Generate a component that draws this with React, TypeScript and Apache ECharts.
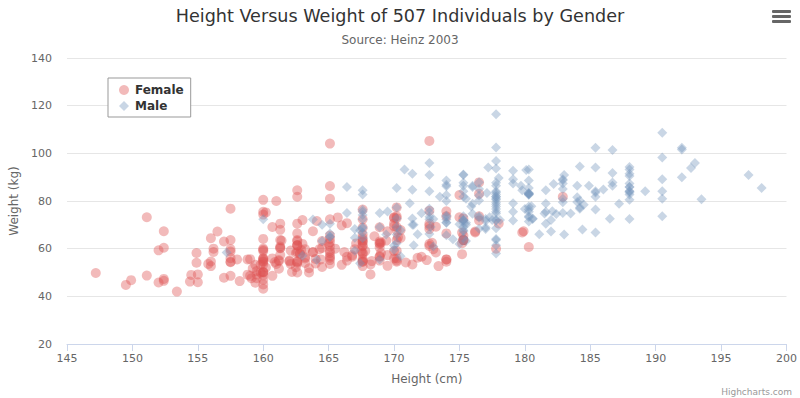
import React, { useEffect, useRef } from "react";
import * as echarts from "echarts";

const titleText = "Height Versus Weight of 507 Individuals by Gender";
const subtitleText = "Source: Heinz 2003";
const xAxisName = "Height (cm)";
const yAxisName = "Weight (kg)";
const seriesNames = ["Female", "Male"];
const creditText = "Highcharts.com";

const femaleData: number[][] = [
  [161.2, 51.6], [167.5, 59.0], [159.5, 49.2], [157.0, 63.0], [155.8, 53.6],
  [170.0, 59.0], [159.1, 47.6], [166.0, 69.8], [176.2, 66.8], [160.2, 75.2],
  [172.5, 55.2], [170.9, 54.2], [172.9, 62.5], [153.4, 42.0], [160.0, 50.0],
  [147.2, 49.8], [168.2, 49.2], [175.0, 73.2], [157.0, 47.8], [167.6, 68.8],
  [159.5, 50.6], [175.0, 82.5], [166.8, 57.2], [176.5, 87.8], [170.2, 72.8],
  [174.0, 54.5], [173.0, 59.8], [179.9, 67.3], [170.5, 67.8], [160.0, 47.0],
  [154.4, 46.2], [162.0, 55.0], [176.5, 83.0], [160.0, 54.4], [152.0, 45.8],
  [162.1, 53.6], [170.0, 73.2], [160.2, 52.1], [161.3, 67.9], [166.4, 56.6],
  [168.9, 62.3], [163.8, 58.5], [167.6, 54.5], [160.0, 50.2], [161.3, 60.3],
  [167.6, 58.3], [165.1, 56.2], [160.0, 50.2], [170.0, 72.9], [157.5, 59.8],
  [167.6, 61.0], [160.7, 69.1], [163.2, 55.9], [152.4, 46.5], [157.5, 54.3],
  [168.3, 54.8], [180.3, 60.7], [165.5, 60.0], [165.0, 62.0], [164.5, 60.3],
  [156.0, 52.7], [160.0, 74.3], [163.0, 62.0], [165.7, 73.1], [161.0, 80.0],
  [162.0, 54.7], [166.0, 53.2], [174.0, 75.7], [172.7, 61.1], [167.6, 55.7],
  [151.1, 48.7], [164.5, 52.3], [163.5, 50.0], [152.0, 59.3], [169.0, 62.5],
  [164.0, 55.7], [161.2, 54.8], [155.0, 45.9], [170.0, 70.6], [176.2, 67.2],
  [170.0, 69.4], [162.5, 58.2], [170.3, 64.8], [164.1, 71.6], [169.5, 52.8],
  [163.2, 59.8], [154.5, 49.0], [159.8, 50.0], [173.2, 69.2], [170.0, 55.9],
  [161.4, 63.4], [169.0, 58.2], [166.2, 58.6], [159.4, 45.7], [162.5, 52.2],
  [159.0, 48.6], [162.8, 57.8], [159.0, 55.6], [179.8, 66.8], [162.9, 59.4],
  [161.0, 53.6], [151.1, 73.2], [168.2, 53.4], [168.9, 69.0], [173.2, 58.4],
  [171.8, 56.2], [178.0, 70.6], [164.3, 59.8], [163.0, 72.0], [168.5, 65.2],
  [166.8, 56.6], [172.7, 105.2], [163.5, 51.8], [169.4, 63.4], [167.8, 59.0],
  [159.5, 47.6], [167.6, 63.0], [161.2, 55.2], [160.0, 45.0], [163.2, 54.0],
  [162.2, 50.2], [161.3, 60.2], [149.5, 44.8], [157.5, 58.8], [163.2, 56.4],
  [172.7, 62.0], [155.0, 49.2], [156.5, 67.2], [164.0, 53.8], [160.9, 54.4],
  [162.8, 58.0], [167.0, 59.8], [160.0, 54.8], [160.0, 43.2], [168.9, 60.5],
  [158.2, 46.4], [156.0, 64.4], [160.0, 48.8], [167.1, 62.2], [158.0, 55.5],
  [167.6, 57.8], [156.0, 54.6], [162.1, 59.2], [173.4, 52.7], [159.8, 53.2],
  [170.5, 64.5], [159.2, 51.8], [157.5, 56.0], [161.3, 63.6], [162.6, 63.2],
  [160.0, 59.5], [168.9, 56.8], [165.1, 64.1], [162.6, 50.0], [165.1, 72.3],
  [166.4, 55.0], [160.0, 55.9], [152.4, 60.4], [170.2, 69.1], [162.6, 84.5],
  [170.2, 55.9], [158.8, 55.5], [172.7, 69.5], [167.6, 76.4], [162.6, 61.4],
  [167.6, 65.9], [156.2, 58.6], [175.2, 66.8], [172.1, 56.6], [162.6, 58.6],
  [160.0, 55.9], [165.1, 59.1], [182.9, 81.8], [166.4, 70.7], [165.1, 56.8],
  [177.8, 60.0], [165.1, 58.2], [175.3, 72.7], [154.9, 54.1], [158.8, 49.1],
  [172.7, 75.9], [168.9, 55.0], [161.3, 57.3], [167.6, 55.0], [165.1, 65.5],
  [175.3, 65.5], [157.5, 48.6], [163.8, 58.6], [167.6, 63.6], [165.1, 55.2],
  [165.1, 62.7], [168.9, 56.6], [162.6, 53.9], [164.5, 63.2], [176.5, 73.6],
  [168.9, 62.0], [175.3, 63.6], [159.4, 53.2], [160.0, 53.4], [170.2, 55.0],
  [162.6, 70.5], [167.6, 54.5], [162.6, 54.5], [160.7, 55.9], [160.0, 59.0],
  [157.5, 63.6], [162.6, 54.5], [152.4, 47.3], [170.2, 67.7], [165.1, 80.9],
  [172.7, 70.5], [165.1, 60.9], [170.2, 63.6], [170.2, 54.5], [170.2, 59.1],
  [161.3, 70.5], [167.6, 52.7], [167.6, 62.7], [165.1, 86.3], [162.6, 66.4],
  [152.4, 67.3], [168.9, 63.0], [170.2, 73.6], [175.2, 62.3], [175.2, 57.7],
  [160.0, 55.4], [165.1, 104.1], [174.0, 55.5], [170.2, 77.3], [160.0, 80.5],
  [167.6, 64.5], [167.6, 72.3], [167.6, 61.4], [154.9, 58.2], [162.6, 81.8],
  [175.3, 63.6], [171.4, 53.4], [157.5, 54.5], [165.1, 53.6], [160.0, 60.0],
  [174.0, 73.6], [162.6, 61.4], [174.0, 55.5], [162.6, 63.6], [161.3, 60.9],
  [156.2, 60.0], [149.9, 46.8], [169.5, 57.3], [160.0, 64.1], [175.3, 63.6],
  [169.5, 67.3], [160.0, 75.5], [172.7, 68.2], [162.6, 61.4], [157.5, 76.8],
  [176.5, 71.8], [164.4, 55.5], [160.7, 48.6], [174.0, 66.4], [163.8, 67.3],
];

const maleData: number[][] = [
  [174.0, 65.6], [175.3, 71.8], [193.5, 80.7], [186.5, 72.6], [187.2, 78.8],
  [181.5, 74.8], [184.0, 86.4], [184.5, 78.4], [175.0, 62.0], [184.0, 81.6],
  [180.0, 76.6], [177.8, 83.6], [192.0, 90.0], [176.0, 74.6], [174.0, 71.0],
  [184.0, 79.6], [192.7, 93.8], [171.5, 70.0], [173.0, 72.4], [176.0, 85.9],
  [176.0, 78.8], [180.5, 77.8], [172.7, 66.2], [176.0, 86.4], [173.5, 81.8],
  [178.0, 89.6], [180.3, 82.8], [180.3, 76.4], [164.5, 63.2], [173.0, 60.9],
  [183.5, 74.8], [175.5, 70.0], [188.0, 72.4], [189.2, 84.1], [172.8, 69.1],
  [170.0, 59.5], [182.0, 67.2], [170.0, 61.3], [177.8, 68.6], [184.2, 80.1],
  [186.7, 87.8], [171.4, 84.7], [172.7, 73.4], [175.3, 72.1], [180.3, 82.6],
  [182.9, 88.7], [188.0, 84.1], [177.2, 94.1], [172.1, 74.9], [167.0, 59.1],
  [169.5, 75.6], [174.0, 86.2], [172.7, 75.3], [182.2, 87.1], [164.1, 55.2],
  [163.0, 57.0], [171.5, 61.4], [184.2, 76.8], [174.0, 86.8], [174.0, 72.2],
  [177.0, 71.6], [186.0, 84.8], [167.0, 68.2], [171.8, 66.1], [182.0, 72.0],
  [167.0, 64.6], [177.8, 74.8], [164.5, 70.0], [192.0, 101.6], [175.5, 63.2],
  [171.2, 79.1], [181.6, 78.9], [167.4, 67.7], [181.1, 66.0], [177.0, 68.2],
  [174.5, 63.9], [177.5, 72.0], [170.5, 56.8], [182.4, 74.5], [197.1, 90.9],
  [180.1, 93.0], [175.5, 80.9], [180.6, 72.7], [184.4, 68.0], [175.5, 70.9],
  [180.6, 72.5], [177.0, 72.5], [177.1, 83.4], [181.6, 75.5], [176.5, 73.0],
  [175.0, 70.2], [174.0, 73.4], [165.1, 70.5], [177.0, 68.9], [192.0, 102.3],
  [176.5, 68.4], [169.4, 65.9], [182.1, 75.7], [179.8, 84.5], [175.3, 87.7],
  [184.9, 86.4], [177.3, 73.2], [167.4, 53.9], [178.1, 72.0], [168.9, 55.5],
  [157.2, 58.4], [180.3, 83.2], [170.2, 72.7], [177.8, 64.1], [172.7, 72.3],
  [165.1, 65.0], [186.7, 86.4], [165.1, 65.0], [174.0, 88.6], [175.3, 84.1],
  [185.4, 66.8], [177.8, 75.5], [180.3, 93.2], [180.3, 82.7], [177.8, 58.0],
  [177.8, 79.5], [177.8, 78.6], [177.8, 71.8], [177.8, 116.4], [163.8, 72.2],
  [188.0, 83.6], [198.1, 85.5], [175.3, 90.9], [166.4, 85.9], [190.5, 89.1],
  [166.4, 75.0], [177.8, 77.7], [179.7, 86.4], [172.7, 90.9], [190.5, 73.6],
  [185.4, 76.4], [168.9, 69.1], [167.6, 84.5], [175.3, 64.5], [170.2, 69.1],
  [190.5, 108.6], [177.8, 86.4], [190.5, 80.9], [177.8, 87.7], [184.2, 94.5],
  [176.5, 80.2], [177.8, 72.0], [180.3, 71.4], [171.4, 72.7], [172.7, 84.1],
  [172.7, 76.8], [177.8, 63.6], [177.8, 80.9], [182.9, 80.9], [170.2, 85.5],
  [167.6, 68.6], [175.3, 67.7], [165.1, 66.4], [185.4, 102.3], [181.6, 70.5],
  [172.7, 95.9], [190.5, 84.1], [179.1, 87.3], [175.3, 71.8], [170.2, 65.9],
  [193.0, 95.9], [171.4, 91.4], [177.8, 81.8], [177.8, 96.8], [167.6, 69.1],
  [167.6, 82.7], [180.3, 75.5], [182.9, 79.5], [176.5, 73.6], [186.7, 91.8],
  [188.0, 84.1], [188.0, 85.9], [177.8, 81.8], [174.0, 82.5], [177.8, 80.5],
  [171.4, 70.0], [185.4, 81.8], [185.4, 84.1], [188.0, 90.5], [188.0, 91.4],
  [182.9, 89.1], [176.5, 85.0], [175.3, 69.1], [175.3, 73.6], [188.0, 80.5],
  [188.0, 82.7], [175.3, 86.4], [170.5, 67.7], [179.1, 92.7], [177.8, 93.6],
  [175.3, 70.9], [182.9, 75.0], [170.8, 93.2], [188.0, 93.2], [180.3, 77.7],
  [177.8, 61.4], [185.4, 94.1], [168.9, 75.0], [185.4, 83.6], [180.3, 85.5],
  [174.0, 73.9], [167.6, 66.8], [182.9, 87.3], [160.0, 72.3], [180.3, 88.6],
  [167.6, 75.5], [186.7, 101.4], [175.3, 91.1], [175.3, 67.3], [175.9, 77.7],
  [175.3, 81.8], [179.1, 75.5], [181.6, 84.5], [177.8, 76.6], [182.9, 85.0],
  [177.8, 102.5], [184.2, 77.3], [179.1, 71.8], [176.5, 87.9], [188.0, 94.3],
  [174.0, 70.9], [167.6, 64.5], [170.2, 77.3], [167.6, 72.3], [188.0, 87.3],
  [174.0, 80.0], [176.5, 82.3], [180.3, 73.6], [167.6, 74.1], [188.0, 85.9],
  [180.3, 73.2], [167.6, 76.3], [183.0, 65.9], [183.0, 90.9], [179.1, 89.1],
  [170.2, 62.3], [177.8, 82.7], [179.1, 79.1], [190.5, 98.2], [177.8, 84.1],
  [180.3, 83.2], [180.3, 83.2],
];

const xMin = 145;
const xMax = 200;
const xInterval = 5;
const yMin = 20;
const yMax = 140;
const yInterval = 20;

const FONT = "'DejaVu Sans', Verdana, sans-serif";

export default function App() {
  const ref = useRef<HTMLDivElement>(null);
  useEffect(() => {
    if (!ref.current) return;
    const chart = echarts.init(ref.current, undefined, { renderer: "svg" });
    chart.setOption({
      animation: false,
      backgroundColor: "#ffffff",
      textStyle: { fontFamily: FONT },
      title: {
        text: titleText,
        subtext: subtitleText,
        left: "center",
        top: 2,
        itemGap: 9,
        textStyle: { fontFamily: FONT, fontSize: 17.6, fontWeight: "normal", color: "#333333" },
        subtextStyle: { fontFamily: FONT, fontSize: 12, color: "#666666" },
      },
      legend: {
        orient: "vertical",
        left: 108,
        top: 78,
        padding: [6, 7, 5, 11],
        itemGap: 4,
        itemWidth: 10,
        itemHeight: 10,
        borderColor: "#999999",
        borderWidth: 1,
        backgroundColor: "#ffffff",
        textStyle: { fontFamily: FONT, fontSize: 12, fontWeight: "bold", color: "#333333", padding: [0, 0, 0, 1] },
        data: [
          { name: seriesNames[0], icon: "circle" },
          { name: seriesNames[1], icon: "diamond" },
        ],
      },
      grid: { left: 67, right: 8, top: 58, bottom: 54, containLabel: false },
      xAxis: {
        type: "value",
        min: xMin,
        max: xMax,
        interval: xInterval,
        name: xAxisName,
        nameLocation: "middle",
        nameGap: 29,
        nameTextStyle: { fontFamily: FONT, fontSize: 12, color: "#666666" },
        axisLine: { show: true, lineStyle: { color: "#ccd6eb", width: 1 } },
        axisTick: { show: true, length: 7, lineStyle: { color: "#ccd6eb" } },
        axisLabel: { fontFamily: FONT, fontSize: 11, color: "#666666", margin: 9 },
        splitLine: { show: false },
      },
      yAxis: {
        type: "value",
        min: yMin,
        max: yMax,
        interval: yInterval,
        name: yAxisName,
        nameLocation: "middle",
        nameGap: 39,
        nameTextStyle: { fontFamily: FONT, fontSize: 12, color: "#666666" },
        axisLine: { show: false },
        axisTick: { show: false },
        axisLabel: { fontFamily: FONT, fontSize: 11, color: "#666666", margin: 15 },
        splitLine: { show: true, lineStyle: { color: "#e6e6e6", width: 1 } },
      },
      series: [
        {
          name: seriesNames[0],
          type: "scatter",
          symbol: "circle",
          symbolSize: 10,
          data: femaleData,
          itemStyle: { color: "rgba(223, 83, 83, 0.5)" },
        },
        {
          name: seriesNames[1],
          type: "scatter",
          symbol: "diamond",
          symbolSize: 10,
          data: maleData,
          itemStyle: { color: "rgba(119, 152, 191, 0.5)" },
        },
      ],
      graphic: [
        { type: "rect", shape: { x: 772, y: 10, width: 19, height: 3, r: 1 }, style: { fill: "#666666" } },
        { type: "rect", shape: { x: 772, y: 15, width: 19, height: 3, r: 1 }, style: { fill: "#666666" } },
        { type: "rect", shape: { x: 772, y: 20, width: 19, height: 3, r: 1 }, style: { fill: "#666666" } },
        {
          type: "text",
          right: 8,
          bottom: 2,
          style: { text: creditText, fontFamily: FONT, fontSize: 9, fill: "#999999" },
        },
      ],
    });
    return () => chart.dispose();
  }, []);
  return <div ref={ref} style={{ width: 800, height: 398, position: "absolute", left: 0, top: 0 }} />;
}
